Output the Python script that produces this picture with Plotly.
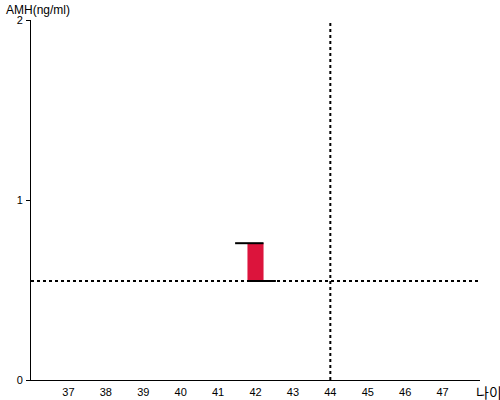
import plotly.graph_objects as go

ages = [42]
amh_low = [0.55]
amh_high = [0.76]
ref_age = 44
ref_amh = 0.55
x_ticks = [37, 38, 39, 40, 41, 42, 43, 44, 45, 46, 47]
y_ticks = [0, 1, 2]

bar_w = 0.43
cap = 0.33

fig = go.Figure()
fig.add_trace(go.Bar(
    x=ages, y=[h - l for h, l in zip(amh_high, amh_low)], base=amh_low,
    width=bar_w, marker=dict(color="#DC143C", line=dict(width=0)),
    showlegend=False, hoverinfo="skip"))

for a, lo, hi in zip(ages, amh_low, amh_high):
    fig.add_trace(go.Scatter(x=[a - bar_w / 2 - cap, a + bar_w / 2], y=[hi, hi], mode="lines",
                             line=dict(color="black", width=2), showlegend=False, hoverinfo="skip"))
    fig.add_trace(go.Scatter(x=[a - bar_w / 2, a + bar_w / 2 + cap], y=[lo, lo], mode="lines",
                             line=dict(color="black", width=2), showlegend=False, hoverinfo="skip"))

fig.add_shape(type="line", xref="x", yref="paper", x0=ref_age, x1=ref_age, y0=0, y1=1,
              line=dict(color="black", width=2, dash="dot"))
fig.add_shape(type="line", xref="paper", yref="y", x0=0, x1=1, y0=ref_amh, y1=ref_amh,
              line=dict(color="black", width=2, dash="dot"))

fig.update_layout(
    width=500, height=400,
    margin=dict(l=31, r=20, t=20, b=20, autoexpand=False),
    plot_bgcolor="white", paper_bgcolor="white",
    font=dict(family="Arial, Liberation Sans, sans-serif", size=11, color="black"),
    xaxis=dict(range=[36, 48], tickvals=x_ticks, showgrid=False, zeroline=False, automargin=False,
               showline=True, linecolor="black", linewidth=1, ticks="", ticklabelstandoff=2),
    yaxis=dict(range=[0, 2], tickvals=y_ticks, showgrid=False, zeroline=False, automargin=False,
               showline=True, linecolor="black", linewidth=1, ticks="outside", ticklen=4,
               tickcolor="black", ticklabelstandoff=1),
    annotations=[
        dict(text="AMH(ng/ml)", xref="paper", yref="paper", x=0, y=1, xshift=-27, yshift=10,
             xanchor="left", yanchor="middle", showarrow=False,
             font=dict(size=12, family="Arial, Liberation Sans, sans-serif")),
        dict(text="나이", xref="paper", yref="paper", x=1, y=0, xshift=-6, yshift=-12,
             xanchor="left", yanchor="middle", showarrow=False,
             font=dict(size=14, family="Noto Sans CJK KR")),
    ],
)

fig.write_html("out.html", config={"displayModeBar": False},
               post_script="document.body.style.margin='0';document.body.style.overflow='hidden';")
